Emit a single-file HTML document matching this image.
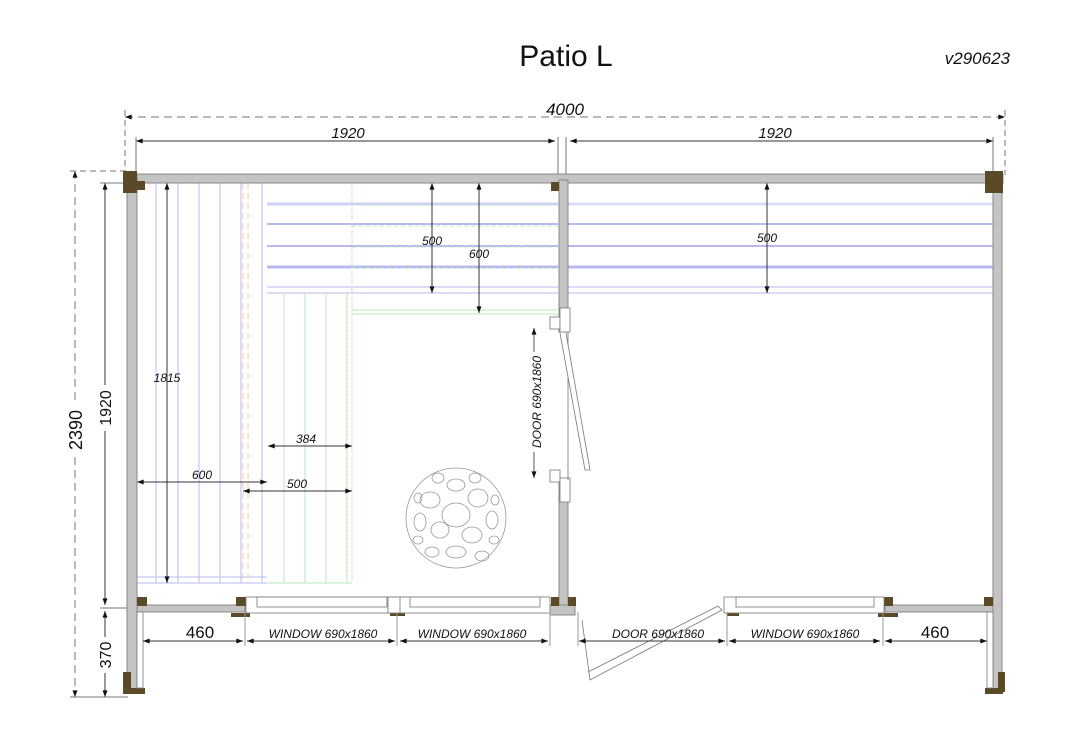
<!DOCTYPE html>
<html><head><meta charset="utf-8"><style>
body{margin:0;background:#fff}
svg{display:block}
text{font-family:"Liberation Sans",sans-serif;font-style:italic;fill:#111}
</style></head><body>
<svg width="1080" height="741" viewBox="0 0 1080 741" xmlns="http://www.w3.org/2000/svg">
<defs>
<marker id="a" viewBox="0 0 8 6" refX="8" refY="3" markerWidth="7" markerHeight="5" orient="auto-start-reverse"><path d="M0,0L8,3L0,6z" fill="#111"/></marker>
</defs>
<text x="566" y="66" font-size="30" text-anchor="middle" style="font-style:normal">Patio L</text>
<text x="1010" y="64" font-size="17" text-anchor="end">v290623</text>

<!-- top dims -->
<g stroke="#777" stroke-width="1" fill="none">
<line x1="125" y1="117" x2="1005" y2="117" stroke-dasharray="8,5" marker-start="url(#a)" marker-end="url(#a)"/>
<line x1="125" y1="110" x2="125" y2="175" stroke-dasharray="6,4"/>
<line x1="1005" y1="110" x2="1005" y2="175" stroke-dasharray="6,4"/>
<line x1="136" y1="141" x2="555" y2="141" stroke="#333" marker-start="url(#a)" marker-end="url(#a)"/>
<line x1="570" y1="141" x2="993" y2="141" stroke="#333" marker-start="url(#a)" marker-end="url(#a)"/>
<line x1="558" y1="137" x2="558" y2="180"/><line x1="566" y1="137" x2="566" y2="180"/>
<line x1="136" y1="137" x2="136" y2="175"/><line x1="993" y1="137" x2="993" y2="175"/>
<!-- left dims -->
<line x1="75" y1="171" x2="75" y2="697" stroke-dasharray="8,5" marker-start="url(#a)" marker-end="url(#a)"/>
<line x1="70" y1="171" x2="125" y2="171" stroke-dasharray="6,4"/>
<line x1="105" y1="183" x2="105" y2="605" stroke="#333" marker-start="url(#a)" marker-end="url(#a)"/>
<line x1="105" y1="611" x2="105" y2="697" stroke="#333" marker-start="url(#a)" marker-end="url(#a)"/>
<line x1="100" y1="183" x2="128" y2="183"/><line x1="100" y1="608" x2="128" y2="608"/><line x1="70" y1="697" x2="128" y2="697"/>
</g>
<text x="565" y="115" font-size="17" text-anchor="middle">4000</text>
<text x="348" y="138" font-size="15" text-anchor="middle">1920</text>
<text x="775" y="138" font-size="15" text-anchor="middle">1920</text>
<rect x="66" y="405" width="18" height="50" fill="#fff"/>
<rect x="97" y="385" width="16" height="46" fill="#fff"/>
<rect x="97" y="637" width="16" height="36" fill="#fff"/>
<text transform="translate(82,430) rotate(-90)" font-size="18" text-anchor="middle" style="font-style:normal">2390</text>
<text transform="translate(111,408) rotate(-90)" font-size="16" text-anchor="middle" style="font-style:normal">1920</text>
<text transform="translate(111,655) rotate(-90)" font-size="16" text-anchor="middle" style="font-style:normal">370</text>

<!-- benches left room -->
<g fill="none" stroke-width="1">
<g stroke="#b8b8f0">
<line x1="156" y1="183" x2="156" y2="583"/><line x1="178" y1="183" x2="178" y2="583"/><line x1="199" y1="183" x2="199" y2="583"/><line x1="220" y1="183" x2="220" y2="583"/><line x1="241" y1="183" x2="241" y2="583"/><line x1="262" y1="183" x2="262" y2="583"/>
<line x1="136" y1="577" x2="267" y2="577"/><line x1="136" y1="583" x2="267" y2="583"/>
<line x1="267" y1="204" x2="558" y2="204" stroke-width="3" stroke="#d0d0f8"/>
<line x1="267" y1="224" x2="558" y2="224" stroke-width="2"/>
<line x1="267" y1="246" x2="558" y2="246" stroke-width="2"/>
<line x1="267" y1="267" x2="558" y2="267" stroke-width="3"/>
<line x1="267" y1="287" x2="558" y2="287"/><line x1="267" y1="293" x2="558" y2="293"/>
</g>
<g stroke="#f4c8a8" stroke-dasharray="6,4"><line x1="243" y1="183" x2="243" y2="583"/><line x1="248" y1="183" x2="248" y2="583"/></g>
<g stroke="#b8e8b8">
<line x1="284" y1="293" x2="284" y2="583"/><line x1="305" y1="293" x2="305" y2="583"/><line x1="326" y1="293" x2="326" y2="583"/><line x1="347" y1="293" x2="347" y2="583"/><line x1="352" y1="183" x2="352" y2="583" stroke-dasharray="5,3"/>
<line x1="267" y1="583" x2="352" y2="583"/>
<line x1="352" y1="310" x2="558" y2="310"/><line x1="352" y1="314" x2="558" y2="314"/>
<line x1="352" y1="205" x2="558" y2="205" stroke-dasharray="4,3"/><line x1="352" y1="226" x2="558" y2="226" stroke-dasharray="4,3"/><line x1="352" y1="247" x2="558" y2="247" stroke-dasharray="4,3"/><line x1="352" y1="268" x2="558" y2="268" stroke-dasharray="4,3"/>
</g>
<g stroke="#b8b8f0">
<line x1="566" y1="204" x2="993" y2="204" stroke-width="3" stroke="#dcdcfa"/>
<line x1="566" y1="224" x2="993" y2="224" stroke-width="2"/>
<line x1="566" y1="246" x2="993" y2="246" stroke-width="2"/>
<line x1="566" y1="267" x2="993" y2="267" stroke-width="3"/>
<line x1="566" y1="287" x2="993" y2="287"/><line x1="566" y1="293" x2="993" y2="293"/>
</g>
<!-- inner dims -->
<g stroke="#333">
<line x1="432" y1="183" x2="432" y2="293" marker-start="url(#a)" marker-end="url(#a)"/>
<line x1="479" y1="183" x2="479" y2="313" marker-start="url(#a)" marker-end="url(#a)"/>
<line x1="767" y1="183" x2="767" y2="293" marker-start="url(#a)" marker-end="url(#a)"/>
<line x1="167" y1="183" x2="167" y2="583" marker-start="url(#a)" marker-end="url(#a)"/>
<line x1="137" y1="482" x2="267" y2="482" marker-start="url(#a)" marker-end="url(#a)"/>
<line x1="243" y1="491" x2="352" y2="491" marker-start="url(#a)" marker-end="url(#a)"/>
<line x1="268" y1="446" x2="352" y2="446" marker-start="url(#a)" marker-end="url(#a)"/>
<line x1="534" y1="328" x2="534" y2="478" marker-start="url(#a)" marker-end="url(#a)" stroke="#555"/>
</g>
</g>
<text x="432" y="245" font-size="12" text-anchor="middle">500</text>
<text x="479" y="258" font-size="12" text-anchor="middle">600</text>
<text x="767" y="242" font-size="12" text-anchor="middle">500</text>
<text x="167" y="382" font-size="12" text-anchor="middle">1815</text>
<text x="202" y="479" font-size="12" text-anchor="middle">600</text>
<text x="297" y="488" font-size="12" text-anchor="middle">500</text>
<text x="306" y="443" font-size="12" text-anchor="middle">384</text>
<rect x="528" y="352" width="14" height="100" fill="#fff"/>
<text transform="translate(541,402) rotate(-90)" font-size="12" text-anchor="middle">DOOR 690x1860</text>

<!-- stone circle -->
<g fill="none" stroke="#999" stroke-width="0.8">
<circle cx="456" cy="518" r="50"/>
<ellipse cx="456" cy="515" rx="14" ry="12"/><ellipse cx="430" cy="500" rx="10" ry="8"/><ellipse cx="478" cy="498" rx="10" ry="9"/>
<ellipse cx="440" cy="530" rx="9" ry="8"/><ellipse cx="472" cy="535" rx="10" ry="8"/><ellipse cx="456" cy="485" rx="9" ry="6"/>
<ellipse cx="456" cy="552" rx="10" ry="6"/><ellipse cx="420" cy="522" rx="6" ry="9"/><ellipse cx="492" cy="520" rx="6" ry="9"/>
<ellipse cx="432" cy="552" rx="7" ry="5"/><ellipse cx="482" cy="556" rx="7" ry="5"/><ellipse cx="438" cy="478" rx="6" ry="5"/><ellipse cx="475" cy="478" rx="6" ry="5"/>
<ellipse cx="418" cy="540" rx="5" ry="4"/><ellipse cx="494" cy="540" rx="5" ry="4"/><ellipse cx="418" cy="498" rx="4" ry="5"/><ellipse cx="495" cy="500" rx="4" ry="5"/>
</g>

<!-- walls -->
<g fill="#c4c4c4" stroke="#888" stroke-width="1">
<rect x="127" y="174" width="876" height="9"/>
<rect x="127" y="174" width="10" height="518"/>
<rect x="559" y="180" width="9" height="152"/>
<rect x="559" y="480" width="9" height="130"/>
<rect x="993" y="174" width="9" height="518"/>
<rect x="137" y="605" width="108" height="7"/>
<rect x="550" y="605" width="25" height="10"/>
<rect x="885" y="605" width="108" height="7"/>
</g>
<!-- posts -->
<g fill="#5a4a28">
<rect x="123" y="171" width="14" height="22"/><rect x="137" y="181" width="8" height="9"/>
<rect x="985" y="171" width="18" height="22"/><rect x="985" y="181" width="8" height="9"/>
<rect x="551" y="182" width="8" height="9"/>
<rect x="137" y="597" width="10" height="9"/><rect x="236" y="597" width="10" height="9"/><rect x="231" y="613" width="19" height="4"/>
<rect x="551" y="597" width="8" height="9"/><rect x="568" y="597" width="8" height="9"/>
<rect x="883" y="597" width="10" height="9"/><rect x="878" y="613" width="20" height="4"/>
<rect x="984" y="597" width="9" height="9"/>
<rect x="390" y="613" width="15" height="3"/>
<rect x="727" y="613" width="12" height="3"/>
<rect x="123" y="672" width="8" height="20"/><rect x="123" y="688" width="22" height="6"/>
<rect x="998" y="672" width="7" height="20"/><rect x="985" y="688" width="18" height="6"/>
</g>
<!-- windows -->
<g fill="#fff" stroke="#777" stroke-width="0.8">
<rect x="246" y="597" width="150" height="16"/><rect x="257" y="597" width="130" height="10"/>
<rect x="388" y="597" width="20" height="16"/>
<rect x="400" y="597" width="150" height="16"/><rect x="410" y="597" width="130" height="10"/>
<rect x="724" y="597" width="160" height="16"/><rect x="736" y="597" width="138" height="10"/>
<rect x="550" y="317" width="10" height="12"/><rect x="560" y="308" width="10" height="24"/>
<rect x="550" y="470" width="10" height="12"/><rect x="560" y="478" width="10" height="24"/>
<line x1="568" y1="332" x2="568" y2="480"/>
<polyline points="560,333 585,470 590,470 566,333"/>
<rect x="137" y="612" width="6" height="76"/>
<rect x="987" y="612" width="6" height="76"/>
<polyline points="582,620 590,680 722,610 718,606 588,672"/>
</g>
<!-- bottom dims -->
<g stroke="#333" fill="none">
<line x1="143" y1="641" x2="243" y2="641" marker-start="url(#a)" marker-end="url(#a)"/>
<line x1="247" y1="641" x2="395" y2="641" marker-start="url(#a)" marker-end="url(#a)"/>
<line x1="400" y1="641" x2="548" y2="641" marker-start="url(#a)" marker-end="url(#a)"/>
<line x1="579" y1="641" x2="725" y2="641" marker-start="url(#a)" marker-end="url(#a)"/>
<line x1="729" y1="641" x2="880" y2="641" marker-start="url(#a)" marker-end="url(#a)"/>
<line x1="885" y1="641" x2="987" y2="641" marker-start="url(#a)" marker-end="url(#a)"/>
</g>
<g stroke="#999"><line x1="245" y1="612" x2="245" y2="646"/><line x1="397" y1="612" x2="397" y2="646"/><line x1="550" y1="612" x2="550" y2="646"/><line x1="578" y1="612" x2="578" y2="646"/><line x1="727" y1="612" x2="727" y2="646"/><line x1="883" y1="612" x2="883" y2="646"/></g>
<text x="200" y="638" font-size="17" text-anchor="middle" style="font-style:normal">460</text>
<text x="323" y="638" font-size="12" text-anchor="middle">WINDOW 690x1860</text>
<text x="472" y="638" font-size="12" text-anchor="middle">WINDOW 690x1860</text>
<text x="658" y="638" font-size="12" text-anchor="middle">DOOR 690x1860</text>
<text x="805" y="638" font-size="12" text-anchor="middle">WINDOW 690x1860</text>
<text x="935" y="638" font-size="17" text-anchor="middle" style="font-style:normal">460</text>
</svg>
</body></html>
